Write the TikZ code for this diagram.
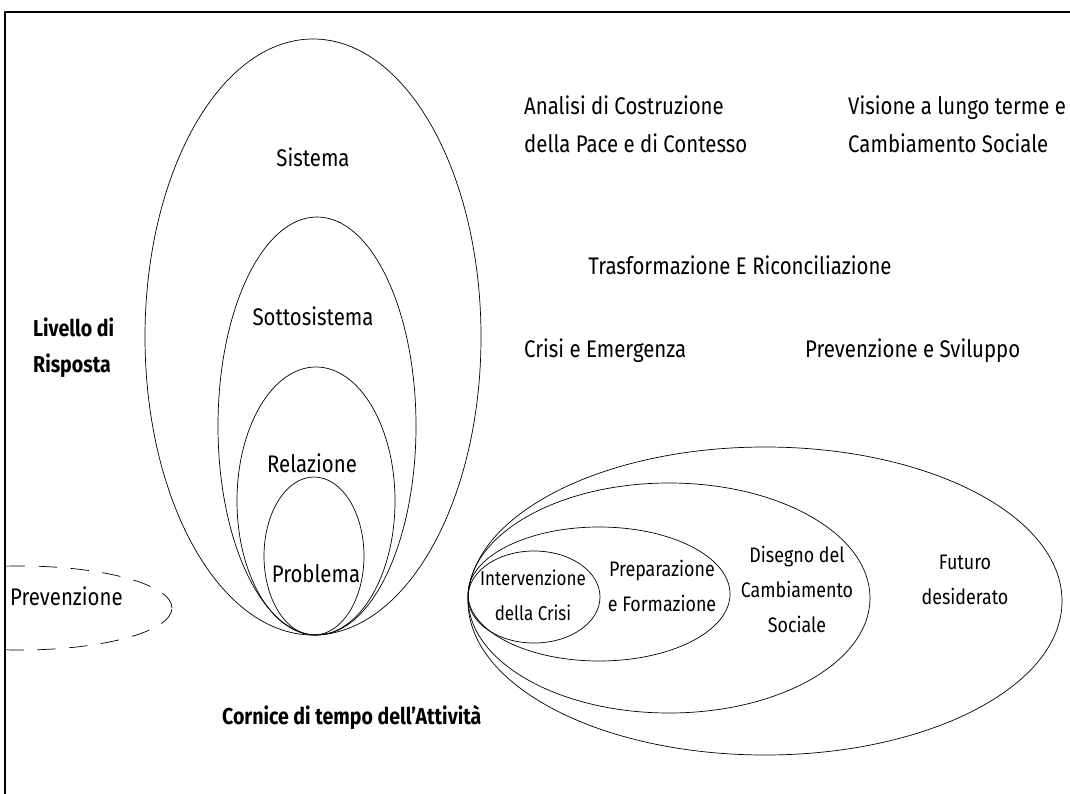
\documentclass[tikz,border=0pt]{standalone}
\usepackage{fontspec}
\setmainfont{Fira Sans}[FakeStretch=0.85]
\usetikzlibrary{positioning}

\begin{document}
\begin{tikzpicture}[line cap=round,line join=round,x=1pt,y=-1pt,
  lbl/.style={font=\fontsize{24}{38}\selectfont,inner sep=0pt},
  lblsmall/.style={font=\fontsize{21}{35}\selectfont,inner sep=0pt,align=center},
  lblbold/.style={font=\fontsize{23}{36}\selectfont\bfseries,inner sep=0pt,align=left,anchor=west},
  ring/.style={line width=0.7pt},
  frameline/.style={line width=2.4pt}]
\useasboundingbox (0,0) rectangle (1070,794);
\draw [frameline] (5,794)--(5,12)--(1070,12);
% livelli di risposta
\draw [ring] (313,337) ellipse [x radius=168pt, y radius=298pt];
\draw [ring] (317,426) ellipse [x radius=99pt, y radius=209pt];
\draw [ring] (316,501) ellipse [x radius=79pt, y radius=134pt];
\draw [ring] (314,556) ellipse [x radius=50pt, y radius=79pt];
\node[lbl] (sis) at (313,157) {Sistema};
\node[lbl] (sot) at (313,316) {Sottosistema};
\node[lbl] (rel) at (312,463) {Relazione};
\node[lbl] (pro) at (316,574) {Problema};
% prevenzione
\begin{scope}
\clip (5,0) rectangle (1070,794);
\draw [ring, dash pattern=on 18pt off 14pt] (20,608) ellipse [x radius=152pt, y radius=42pt];
\end{scope}
\node[lbl, anchor=west] (prev) at (10,596) {Prevenzione};
% cornice di tempo
\draw [ring] (765,601) ellipse [x radius=297pt, y radius=154pt];
\draw [ring] (669,598) ellipse [x radius=201pt, y radius=115pt];
\draw [ring] (599,594) ellipse [x radius=131pt, y radius=67pt];
\draw [ring] (534,597) ellipse [x radius=66pt, y radius=46pt];
\node[lblsmall, font=\fontsize{20}{35}\selectfont] (int) at (533,595) {Intervenzione\\della Crisi};
\node[lblsmall] (pre) at (662,586) {Preparazione\\e Formazione};
\node[lblsmall] (dis) at (797,589) {Disegno del\\Cambiamento\\Sociale};
\node[lblsmall] (fut) at (965,580) {Futuro\\desiderato};
% testi
\node[lbl, align=left, anchor=west] (ana) at (524,124) {Analisi di Costruzione\\della Pace e di Contesso};
\node[lbl, align=left, anchor=west] (vis) at (848,124) {Visione a lungo terme e\\Cambiamento Sociale};
\node[lbl] (tra) at (740,265) {Trasformazione E Riconciliazione};
\node[lbl, anchor=west] (cri) at (524,351) {Crisi e Emergenza};
\node[lbl, anchor=west] (svi) at (805,351) {Prevenzione e Sviluppo};
\node[lblbold] (liv) at (33,348) {Livello di\\Risposta};
\node[lblbold] (cor) at (222,717) {Cornice di tempo dell'Attività};
\end{tikzpicture}
\end{document}
